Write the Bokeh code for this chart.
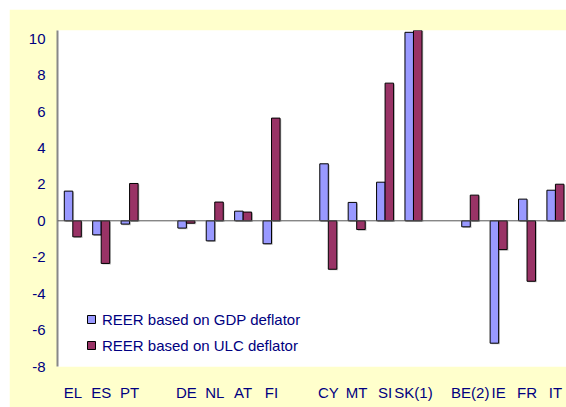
from bokeh.plotting import figure
from bokeh.models import ColumnDataSource, FixedTicker, Span, Legend, LegendItem, Range1d
from bokeh.transform import dodge
from bokeh.embed import file_html
from bokeh.resources import INLINE

countries = ["EL", "ES", "PT", "DE", "NL", "AT", "FI", "CY", "MT", "SI", "SK(1)",
             "BE(2)", "IE", "FR", "IT"]
groups = [0, 0, 0, 1, 1, 1, 1, 2, 2, 2, 2, 3, 3, 3, 3]
gdp = [1.63, -0.77, -0.18, -0.40, -1.10, 0.53, -1.26, 3.13, 1.01, 2.12, 10.35,
       -0.33, -6.72, 1.19, 1.68]
ulc = [-0.88, -2.34, 2.05, -0.13, 1.03, 0.48, 5.64, -2.66, -0.48, 7.56, 10.8,
       1.41, -1.58, -3.32, 2.01]
y_ticks = [-8, -6, -4, -2, 0, 2, 4, 6, 8, 10]
y_tick_labels = ["-8", "-6", "-4", "-2", "0", "2", "4", "6", "8", "10"]
series_names = ["REER based on GDP deflator", "REER based on ULC deflator"]

FONT = "Liberation Sans"
NAVY = "#000080"
GDP_COLOR = "#9999FF"
ULC_COLOR = "#993366"

xpos = [i + g for i, g in enumerate(groups)]
zeros = [0.0] * len(gdp)
sh = 0.06
src = ColumnDataSource(dict(
    x=xpos, gdp=gdp, ulc=ulc, zero=zeros,
    gdp_s=[v - sh for v in gdp], ulc_s=[v - sh for v in ulc],
    zero_s=[-sh] * len(gdp),
))

p = figure(width=557, height=398, output_backend="svg", toolbar_location=None,
           x_range=Range1d(-0.539, 17.39), y_range=Range1d(-8, 10.45),
           min_border_left=48, min_border_right=0, min_border_top=21,
           min_border_bottom=41)
p.margin = (9, 0, 0, 9)
p.border_fill_color = "#FFFFCC"
p.background_fill_color = "white"
p.outline_line_color = None
p.xgrid.grid_line_color = None
p.ygrid.grid_line_color = None

# shadows
p.vbar(x=dodge("x", -0.15 + 0.045, range=p.x_range), width=0.3, bottom="zero_s", top="gdp_s",
       source=src, fill_color="#777777", fill_alpha=0.45, line_color=None)
p.vbar(x=dodge("x", 0.15 + 0.045, range=p.x_range), width=0.3, bottom="zero_s", top="ulc_s",
       source=src, fill_color="#777777", fill_alpha=0.45, line_color=None)

r1 = p.vbar(x=dodge("x", -0.15, range=p.x_range), width=0.3, bottom="zero", top="gdp",
            source=src, fill_color=GDP_COLOR, line_color="black", line_width=1)
r2 = p.vbar(x=dodge("x", 0.15, range=p.x_range), width=0.3, bottom="zero", top="ulc",
            source=src, fill_color=ULC_COLOR, line_color="black", line_width=1)

p.add_layout(Span(location=0, dimension="width", line_color="#555555", line_width=1))

# y axis
ya = p.yaxis[0]
ya.ticker = FixedTicker(ticks=y_ticks)
ya.major_label_overrides = {t: s for t, s in zip(y_ticks, y_tick_labels)}
ya.axis_line_color = "#888888"
ya.axis_line_width = 2
ya.major_tick_line_color = None
ya.minor_tick_line_color = None
ya.major_tick_out = 0
ya.major_tick_in = 0
ya.major_label_standoff = 12
ya.major_label_text_font = FONT
ya.major_label_text_font_size = "15px"
ya.major_label_text_color = NAVY

# x axis
xa = p.xaxis[0]
xa.ticker = FixedTicker(ticks=xpos)
xa.major_label_overrides = {x: c for x, c in zip(xpos, countries)}
xa.axis_line_color = None
xa.major_tick_line_color = None
xa.minor_tick_line_color = None
xa.major_tick_out = 0
xa.major_tick_in = 0
xa.major_label_standoff = 17
xa.major_label_text_font = FONT
xa.major_label_text_font_size = "15px"
xa.major_label_text_color = NAVY

legend = Legend(items=[LegendItem(label=series_names[0], renderers=[r1]),
                       LegendItem(label=series_names[1], renderers=[r2])],
                location=(29, 11), orientation="vertical")
legend.background_fill_alpha = 0
legend.border_line_color = None
legend.padding = 0
legend.margin = 0
legend.glyph_width = 10
legend.glyph_height = 10
legend.label_height = 20
legend.spacing = 6
legend.label_standoff = 6
legend.label_text_font = FONT
legend.label_text_font_size = "15px"
legend.label_text_color = NAVY
p.add_layout(legend, "center")

open("out.html", "w").write(file_html(p, INLINE))
